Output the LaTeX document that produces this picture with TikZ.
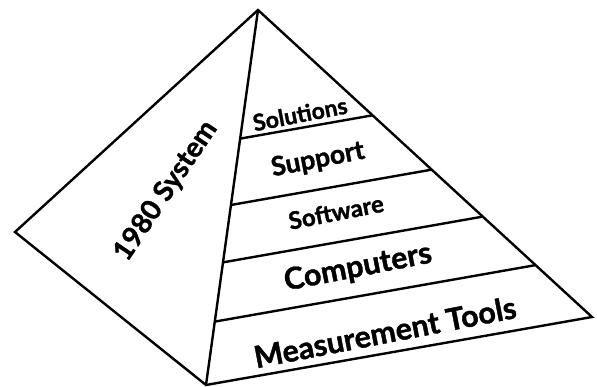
\documentclass[tikz,border=0pt]{standalone}
\usepackage{fontspec}
\setmainfont{Lato}[BoldFeatures={FakeBold=1.3}]
\usetikzlibrary{calc}
\begin{document}
\begin{tikzpicture}[x=1pt,y=-1pt]
  \tikzstyle{edge}=[line width=2.4pt, line join=miter]
  \tikzstyle{layer}=[font=\bfseries, rotate=11, inner sep=0pt]
  \useasboundingbox (0,0) rectangle (597,387);
  % pyramid corners
  \coordinate (apex) at (258,10);
  \coordinate (left) at (15,232);
  \coordinate (front) at (206,385);
  \coordinate (right) at (592,317);
  \draw[edge] (apex) -- (left) -- (front) -- (right) -- cycle;
  \draw[edge] (apex) -- (front);
  % layer lines on the right face
  \foreach \t [count=\i] in {0.343,0.52,0.673,0.831} {
    \coordinate (f\i) at ($(apex)!\t!(front)$);
    \coordinate (r\i) at ($(apex)!\t!(right)$);
    \draw[edge] (f\i) -- (r\i);
  }
  \node[layer, font=\bfseries\fontsize{23}{27}\selectfont] (solutions) at (300,114) {Solutions};
  \node[layer, font=\bfseries\fontsize{26.5}{31}\selectfont] (support) at (318,160) {Support};
  \node[layer, font=\bfseries\fontsize{24}{28}\selectfont] (software) at (336,212) {Software};
  \node[layer, font=\bfseries\fontsize{30.5}{36}\selectfont] (computers) at (358,268) {Computers};
  \node[layer, font=\bfseries\fontsize{30.5}{36}\selectfont] (tools) at (385,332) {Measurement Tools};
  \node[inner sep=0pt, rotate=56, font=\bfseries\fontsize{28}{33}\selectfont] (system) at (166,191) {1980 System};
\end{tikzpicture}
\end{document}
